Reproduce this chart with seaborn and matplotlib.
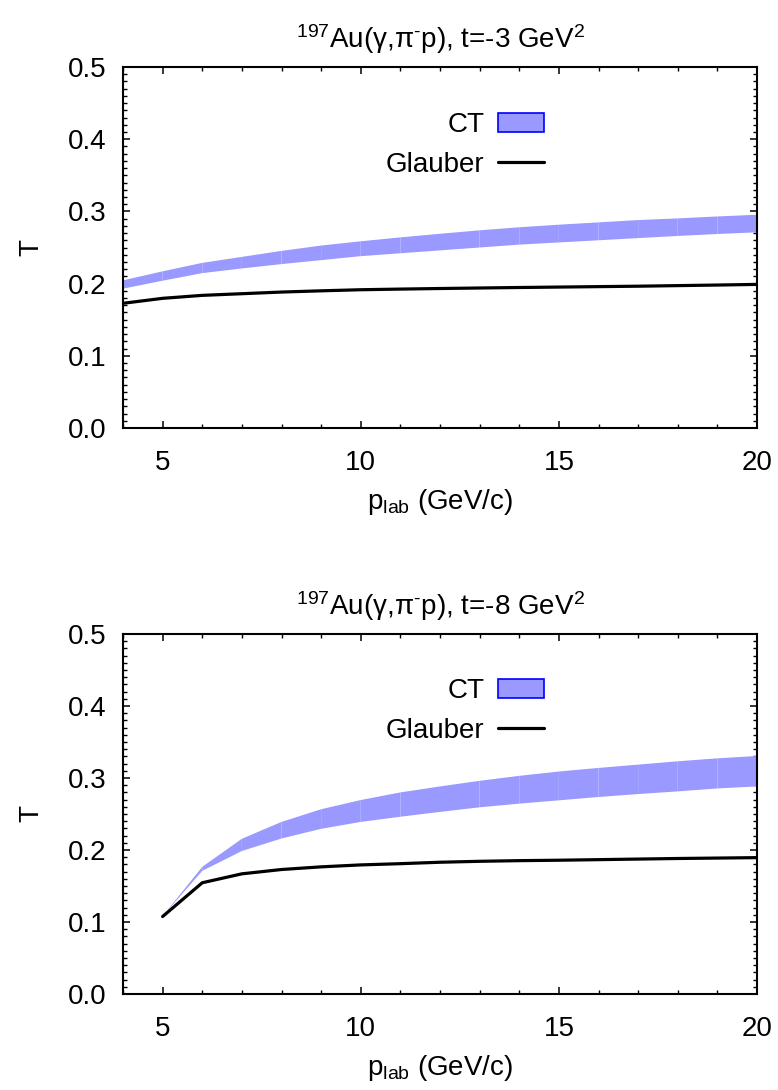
import numpy as np
import pandas as pd
import matplotlib
matplotlib.use("Agg")
import matplotlib.pyplot as plt
import seaborn as sns
from matplotlib.patches import Patch
from matplotlib.lines import Line2D
from matplotlib.ticker import MultipleLocator, FormatStrFormatter

# ---------------- data ----------------
p_top = [4, 5, 6, 7, 8, 9, 10, 11, 12, 13, 14, 15, 16, 17, 18, 19, 20]
ct_top_lo = [0.193, 0.204, 0.2145, 0.221, 0.227, 0.2325, 0.238, 0.242, 0.246,
             0.250, 0.254, 0.257, 0.260, 0.263, 0.266, 0.2687, 0.271]
ct_top_hi = [0.2045, 0.217, 0.2287, 0.237, 0.2453, 0.2527, 0.2586, 0.264, 0.269,
             0.2738, 0.278, 0.2816, 0.2848, 0.288, 0.2903, 0.293, 0.2954]
glauber_top = [0.1727, 0.1796, 0.1837, 0.186, 0.1883, 0.19, 0.1915, 0.1924, 0.1932,
               0.1939, 0.1946, 0.1952, 0.1958, 0.1964, 0.1972, 0.198, 0.1989]

p_bot = [5, 6, 7, 8, 9, 10, 11, 12, 13, 14, 15, 16, 17, 18, 19, 20]
ct_bot_lo = [0.108, 0.171, 0.1986, 0.216, 0.2294, 0.239, 0.2462, 0.2529, 0.2593,
             0.2644, 0.269, 0.2736, 0.2777, 0.2814, 0.2855, 0.2883]
ct_bot_hi = [0.108, 0.1766, 0.2156, 0.239, 0.2566, 0.2694, 0.2800, 0.2883, 0.2961,
             0.303, 0.309, 0.314, 0.3186, 0.3232, 0.3273, 0.3306]
glauber_bot = [0.1076, 0.1545, 0.1669, 0.1729, 0.1766, 0.1793, 0.181, 0.183, 0.1843,
               0.1852, 0.1858, 0.1866, 0.1874, 0.1882, 0.1888, 0.1894]

titles = [r"$^{197}$Au($\gamma$,$\pi^{\text{-}}$p), t=-3 GeV$^{2}$",
          r"$^{197}$Au($\gamma$,$\pi^{\text{-}}$p), t=-8 GeV$^{2}$"]
xlabel = r"p$_{\mathrm{lab}}$ (GeV/c)"
ylabel = "T"
legend_labels = ["CT", "Glauber"]

# ---------------- style ----------------
sns.set_theme(style="ticks")
plt.rcParams["font.family"] = ["Liberation Sans", "DejaVu Sans"]
plt.rcParams["mathtext.fontset"] = "custom"
plt.rcParams["mathtext.rm"] = "Liberation Sans"
plt.rcParams["mathtext.it"] = "Liberation Sans:italic"
plt.rcParams["mathtext.default"] = "regular"
plt.rcParams["text.color"] = "black"
plt.rcParams["axes.labelcolor"] = "black"
plt.rcParams["axes.titlecolor"] = "black"

band_color = "#9999ff"
FS = 20

fig = plt.figure(figsize=(7.78, 10.90), dpi=100)
ax_top = fig.add_axes([123 / 778, 1 - 428 / 1090, 634 / 778, 361 / 1090])
ax_bot = fig.add_axes([123 / 778, 1 - 994 / 1090, 634 / 778, 360 / 1090])

panels = [
    (ax_top, p_top, ct_top_lo, ct_top_hi, glauber_top, titles[0], 1 - 112 / 1090),
    (ax_bot, p_bot, ct_bot_lo, ct_bot_hi, glauber_bot, titles[1], 1 - 678 / 1090),
]

for ax, p, lo, hi, gl, title, leg_y in panels:
    # band drawn segment by segment (gives the faint seams of the original)
    for i in range(len(p) - 1):
        ax.fill_between(p[i:i + 2], lo[i:i + 2], hi[i:i + 2],
                        facecolor=band_color, edgecolor="none", linewidth=0,
                        antialiased=True)
    df = pd.DataFrame({"p": p, "T": gl})
    sns.lineplot(data=df, x="p", y="T", ax=ax, color="black", linewidth=2.3,
                 legend=False)

    ax.set_xlim(4, 20)
    ax.set_ylim(0, 0.5)
    ax.xaxis.set_major_locator(MultipleLocator(5))
    ax.xaxis.set_minor_locator(MultipleLocator(1))
    ax.yaxis.set_major_locator(MultipleLocator(0.1))
    ax.yaxis.set_minor_locator(MultipleLocator(0.01))
    ax.yaxis.set_major_formatter(FormatStrFormatter("%.1f"))
    ax.tick_params(which="both", direction="in", top=True, right=True,
                   labelsize=FS, colors="black")
    ax.tick_params(which="major", length=5, width=1.1)
    ax.tick_params(which="minor", length=2.7, width=1.0)
    ax.tick_params(axis="x", which="major", pad=16)
    ax.tick_params(axis="y", which="major", pad=12)
    for s in ax.spines.values():
        s.set_linewidth(1.5)
        s.set_color("black")
        s.set_visible(True)
    ax.set_xlabel(xlabel, fontsize=FS, labelpad=8, color="black")
    ax.set_ylabel(ylabel, fontsize=FS, labelpad=17, color="black")
    ax.set_title(title, fontsize=FS, pad=14, color="black")

    handles = [Patch(facecolor=band_color, edgecolor="blue", linewidth=1.2),
               Line2D([], [], color="black", linewidth=2.3)]
    leg = ax.legend(handles, legend_labels, loc="upper right", markerfirst=False,
                    frameon=False, fontsize=FS, handlelength=1.65, handletextpad=0.5,
                    labelspacing=0.5, borderpad=0, borderaxespad=0,
                    bbox_to_anchor=(544 / 778, leg_y), bbox_transform=fig.transFigure)
    for t in leg.get_texts():
        t.set_color("black")

fig.savefig("out.png", dpi=100)
